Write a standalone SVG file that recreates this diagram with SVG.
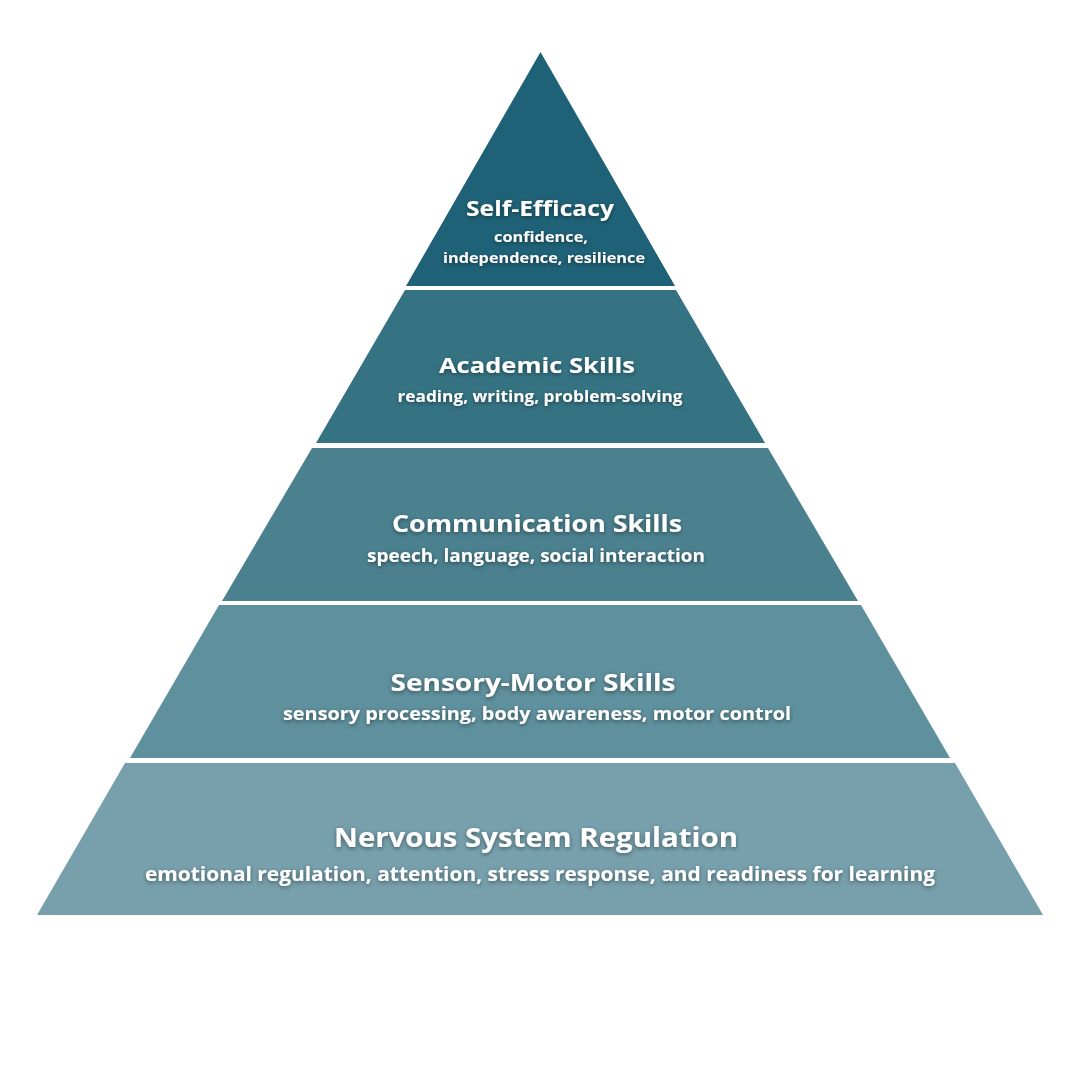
<svg xmlns="http://www.w3.org/2000/svg" width="1068" height="1068" viewBox="0 0 1068 1068">
<defs>
<filter id="sh" x="-10%" y="-50%" width="120%" height="200%">
<feDropShadow dx="0" dy="1.5" stdDeviation="2" flood-color="#000" flood-opacity="0.45"/>
</filter>
<style>
.t{font-family:"Open Sans","Liberation Sans",sans-serif;font-weight:700;fill:#fff;text-anchor:middle;filter:url(#sh)}
.s{font-family:"Open Sans","Liberation Sans",sans-serif;font-weight:700;fill:#fff;text-anchor:middle;filter:url(#sh)}
</style>
</defs>
<rect width="1068" height="1068" fill="#fff"/>
<g id="layer1">
<polygon points="540.5,52 675,286 406,286" fill="#1f6277"/>
<text class="t" x="540" y="216" font-size="22" textLength="148" lengthAdjust="spacingAndGlyphs">Self-Efficacy</text>
<text class="s" x="541" y="242" font-size="15" textLength="94" lengthAdjust="spacingAndGlyphs">confidence,</text>
<text class="s" x="544" y="263" font-size="15" textLength="202" lengthAdjust="spacingAndGlyphs">independence, resilience</text>
</g>
<g id="layer2">
<polygon points="405,290 676,290 765,443 316,443" fill="#357383"/>
<text class="t" x="537" y="373" font-size="22" textLength="196" lengthAdjust="spacingAndGlyphs">Academic Skills</text>
<text class="s" x="540" y="402" font-size="16" textLength="285" lengthAdjust="spacingAndGlyphs">reading, writing, problem-solving</text>
</g>
<g id="layer3">
<polygon points="312,448 768,448 858,601 222,601" fill="#4b818f"/>
<text class="t" x="537" y="532" font-size="23" textLength="290" lengthAdjust="spacingAndGlyphs">Communication Skills</text>
<text class="s" x="536" y="562" font-size="17" textLength="338" lengthAdjust="spacingAndGlyphs">speech, language, social interaction</text>
</g>
<g id="layer4">
<polygon points="219,605 861,605 950,758 130,758" fill="#5f909d"/>
<text class="t" x="533" y="691" font-size="24" textLength="285" lengthAdjust="spacingAndGlyphs">Sensory-Motor Skills</text>
<text class="s" x="537" y="720" font-size="18" textLength="508" lengthAdjust="spacingAndGlyphs">sensory processing, body awareness, motor control</text>
</g>
<g id="layer5">
<polygon points="125,763 955,763 1043,915 37,915" fill="#77a0ac"/>
<text class="t" x="536" y="847" font-size="26" textLength="404" lengthAdjust="spacingAndGlyphs">Nervous System Regulation</text>
<text class="s" x="540" y="881" font-size="20" textLength="790" lengthAdjust="spacingAndGlyphs">emotional regulation, attention, stress response, and readiness for learning</text>
</g>
<g id="connectors"></g>
</svg>
